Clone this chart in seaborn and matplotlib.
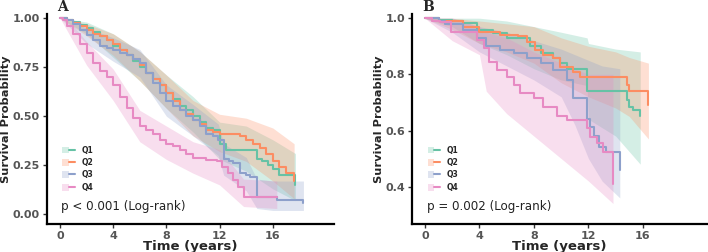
import numpy as np
import pandas as pd
import matplotlib
matplotlib.use("Agg")
import matplotlib.pyplot as plt
import seaborn as sns
from matplotlib.patches import Patch
from matplotlib.lines import Line2D
from matplotlib.legend_handler import HandlerTuple

groups = ["Q1", "Q2", "Q3", "Q4"]
colors = ["#66C2A5", "#FC8D62", "#8DA0CB", "#E78AC3"]

# ---------- Panel A ----------
a_q1_t = [0, 0.5, 1, 1.5, 2, 2.5, 3, 3.5, 4, 4.5, 5, 5.5, 6, 6.5, 7, 7.5, 8, 8.5, 9, 9.5, 10, 10.5, 11, 11.5, 12, 12.5, 13, 14, 14.8, 15.2, 15.6, 16, 16.5, 17, 17.7]
a_q1_s = [1.0, 0.99, 0.98, 0.965, 0.95, 0.93, 0.91, 0.89, 0.86, 0.84, 0.81, 0.78, 0.75, 0.72, 0.69, 0.66, 0.62, 0.59, 0.55, 0.53, 0.50, 0.47, 0.44, 0.43, 0.36, 0.33, 0.33, 0.33, 0.28, 0.27, 0.25, 0.23, 0.20, 0.20, 0.15]
a_q2_t = [0, 0.5, 1, 1.5, 2, 2.5, 3, 3.5, 4, 4.5, 5, 5.5, 6, 6.5, 7, 7.5, 8, 8.5, 9, 9.5, 10, 10.5, 11, 11.5, 12, 13, 13.5, 14, 14.5, 15, 15.5, 16, 16.5, 17, 17.6]
a_q2_s = [1.0, 0.99, 0.975, 0.96, 0.94, 0.92, 0.91, 0.89, 0.87, 0.84, 0.81, 0.79, 0.76, 0.72, 0.69, 0.66, 0.62, 0.58, 0.53, 0.51, 0.48, 0.46, 0.43, 0.42, 0.41, 0.41, 0.40, 0.38, 0.36, 0.34, 0.31, 0.27, 0.24, 0.21, 0.17]
a_q3_t = [0, 0.5, 1, 1.5, 2, 2.5, 3, 3.5, 4, 4.5, 5, 5.5, 6, 6.5, 7, 7.5, 8, 8.5, 9, 9.5, 10, 10.5, 11, 11.5, 11.9, 12.3, 12.7, 13, 13.5, 14, 14.3, 14.8, 16.3, 17, 18.3]
a_q3_s = [1.0, 0.99, 0.97, 0.94, 0.915, 0.89, 0.86, 0.85, 0.84, 0.82, 0.81, 0.79, 0.77, 0.72, 0.67, 0.62, 0.58, 0.55, 0.53, 0.50, 0.48, 0.45, 0.41, 0.40, 0.38, 0.28, 0.27, 0.26, 0.21, 0.20, 0.19, 0.09, 0.075, 0.075, 0.06]
a_q4_t = [0, 0.25, 0.5, 1, 1.5, 2, 2.5, 3, 3.5, 4, 4.5, 5, 5.5, 6, 6.5, 7, 7.5, 8, 8.5, 9, 9.5, 10, 11, 11.8, 12.2, 12.6, 13, 13.4, 13.8, 16.3]
a_q4_s = [1.0, 0.99, 0.96, 0.92, 0.87, 0.82, 0.77, 0.73, 0.70, 0.66, 0.60, 0.54, 0.49, 0.45, 0.43, 0.41, 0.38, 0.36, 0.35, 0.33, 0.31, 0.285, 0.277, 0.27, 0.24, 0.21, 0.175, 0.14, 0.09, 0.09]

a_q1_ci_t = [0, 2, 4, 6, 8, 10, 12, 14, 16, 17.7]
a_q1_lo = [1.0, 0.92, 0.80, 0.68, 0.54, 0.42, 0.28, 0.22, 0.13, 0.07]
a_q1_hi = [1.0, 0.98, 0.92, 0.83, 0.71, 0.60, 0.47, 0.45, 0.38, 0.31]
a_q2_ci_t = [0, 2, 4, 6, 8, 10, 12, 14, 16, 17.6]
a_q2_lo = [1.0, 0.91, 0.81, 0.68, 0.54, 0.40, 0.32, 0.27, 0.17, 0.08]
a_q2_hi = [1.0, 0.97, 0.92, 0.83, 0.71, 0.58, 0.51, 0.49, 0.44, 0.36]
a_q3_ci_t = [0, 2, 4, 6, 8, 10, 11.9, 12.3, 14, 14.8, 16, 18.3]
a_q3_lo = [1.0, 0.87, 0.78, 0.70, 0.50, 0.40, 0.30, 0.20, 0.12, 0.03, 0.02, 0.02]
a_q3_hi = [1.0, 0.95, 0.90, 0.84, 0.66, 0.56, 0.46, 0.36, 0.29, 0.18, 0.17, 0.17]
a_q4_ci_t = [0, 1, 2, 4, 6, 8, 10, 12, 13.8, 16.3]
a_q4_lo = [1.0, 0.88, 0.76, 0.58, 0.37, 0.28, 0.21, 0.15, 0.04, 0.03]
a_q4_hi = [1.0, 0.96, 0.88, 0.74, 0.53, 0.45, 0.37, 0.33, 0.18, 0.17]

# ---------- Panel B ----------
b_q1_t = [0, 1, 2, 2.8, 3.8, 5, 6, 7.7, 8.5, 9.4, 9.9, 10.4, 11.9, 14.8, 15.0, 15.3, 15.8]
b_q1_s = [1.0, 0.995, 0.99, 0.982, 0.958, 0.947, 0.93, 0.90, 0.875, 0.857, 0.84, 0.82, 0.74, 0.71, 0.685, 0.673, 0.65]
b_q2_t = [0, 1, 2.8, 4, 5.5, 6.8, 7.5, 8.1, 8.7, 9.4, 9.9, 10.9, 11.4, 14.8, 15.0, 16.4]
b_q2_s = [1.0, 0.99, 0.97, 0.952, 0.94, 0.935, 0.917, 0.887, 0.87, 0.857, 0.828, 0.81, 0.79, 0.762, 0.74, 0.69]
b_q3_t = [0, 1, 1.5, 2.8, 3.8, 4.5, 5.5, 6.5, 7.5, 8.5, 9.4, 10.4, 10.9, 11.9, 12.1, 12.4, 12.8, 13.3, 14.3]
b_q3_s = [1.0, 0.99, 0.98, 0.958, 0.93, 0.90, 0.887, 0.875, 0.857, 0.84, 0.816, 0.78, 0.715, 0.64, 0.614, 0.58, 0.54, 0.525, 0.46]
b_q4_t = [0, 0.5, 1.1, 1.9, 3.8, 4.3, 4.7, 5.3, 6, 6.5, 7, 8, 8.7, 9.7, 10.4, 11.9, 12.1, 12.6, 13.1, 13.8]
b_q4_s = [1.0, 0.99, 0.988, 0.952, 0.923, 0.893, 0.845, 0.816, 0.79, 0.762, 0.733, 0.715, 0.685, 0.65, 0.638, 0.608, 0.578, 0.554, 0.525, 0.41]

b_q1_ci_t = [0, 2, 4, 6, 8, 10, 11.9, 12.0, 14, 15.8]
b_q1_lo = [1.0, 0.97, 0.91, 0.87, 0.82, 0.78, 0.76, 0.64, 0.58, 0.48]
b_q1_hi = [1.0, 1.0, 1.0, 0.99, 0.97, 0.95, 0.93, 0.91, 0.89, 0.88]
b_q2_ci_t = [0, 2, 4, 6, 8, 10, 12, 14, 15, 16.4]
b_q2_lo = [1.0, 0.96, 0.91, 0.88, 0.84, 0.77, 0.72, 0.68, 0.65, 0.57]
b_q2_hi = [1.0, 1.0, 0.99, 0.98, 0.97, 0.93, 0.90, 0.88, 0.86, 0.84]
b_q3_ci_t = [0, 2, 4, 6, 8, 10, 11, 12, 13, 14.3]
b_q3_lo = [1.0, 0.95, 0.88, 0.83, 0.78, 0.72, 0.62, 0.50, 0.42, 0.36]
b_q3_hi = [1.0, 1.0, 0.97, 0.95, 0.92, 0.89, 0.87, 0.85, 0.83, 0.82]
b_q4_ci_t = [0, 2, 4, 4.5, 6, 8, 10, 12, 13.8]
b_q4_lo = [1.0, 0.92, 0.87, 0.74, 0.66, 0.58, 0.50, 0.42, 0.34]
b_q4_hi = [1.0, 1.0, 0.97, 0.95, 0.93, 0.88, 0.84, 0.80, 0.80]

panel_labels = ["A", "B"]
p_texts = ["p < 0.001 (Log-rank)", "p = 0.002 (Log-rank)"]
x_ticks = [0, 4, 8, 12, 16]
a_yticks = [0.00, 0.25, 0.50, 0.75, 1.00]
a_yticklabels = ["0.00", "0.25", "0.50", "0.75", "1.00"]
b_yticks = [0.4, 0.6, 0.8, 1.0]
b_yticklabels = ["0.4", "0.6", "0.8", "1.0"]

panels = [
    dict(lines=[(a_q1_t, a_q1_s), (a_q2_t, a_q2_s), (a_q3_t, a_q3_s), (a_q4_t, a_q4_s)],
         cis=[(a_q1_ci_t, a_q1_lo, a_q1_hi), (a_q2_ci_t, a_q2_lo, a_q2_hi),
              (a_q3_ci_t, a_q3_lo, a_q3_hi), (a_q4_ci_t, a_q4_lo, a_q4_hi)],
         rect=[47/708, 28/252, 287/708, 210/252], ylim=(-0.049, 1.021), xlim=(-0.98, 20.6),
         yticks=a_yticks, yticklabels=a_yticklabels),
    dict(lines=[(b_q1_t, b_q1_s), (b_q2_t, b_q2_s), (b_q3_t, b_q3_s), (b_q4_t, b_q4_s)],
         cis=[(b_q1_ci_t, b_q1_lo, b_q1_hi), (b_q2_ci_t, b_q2_lo, b_q2_hi),
              (b_q3_ci_t, b_q3_lo, b_q3_hi), (b_q4_ci_t, b_q4_lo, b_q4_hi)],
         rect=[412/708, 28/252, 295/708, 210/252], ylim=(0.267, 1.015), xlim=(-0.95, 20.7),
         yticks=b_yticks, yticklabels=b_yticklabels),
]

sns.set_style("white")
plt.rcParams["font.family"] = ["DejaVu Sans"]

fig = plt.figure(figsize=(7.08, 2.52), dpi=100)

for i, p in enumerate(panels):
    ax = fig.add_axes(p["rect"])
    frames = []
    for g, (t, s) in zip(groups, p["lines"]):
        frames.append(pd.DataFrame({"time": t, "surv": s, "group": g}))
    df = pd.concat(frames, ignore_index=True)
    for g, c, (ct, lo, hi) in zip(groups, colors, p["cis"]):
        ax.fill_between(ct, lo, hi, color=c, alpha=0.28, linewidth=0)
    sns.lineplot(data=df, x="time", y="surv", hue="group", palette=colors,
                 estimator=None, sort=False, drawstyle="steps-post", linewidth=1.5,
                 legend=False, ax=ax)
    ax.set_xlim(*p["xlim"])
    ax.set_ylim(*p["ylim"])
    ax.set_xticks(x_ticks)
    ax.set_xticklabels([str(v) for v in x_ticks])
    ax.set_yticks(p["yticks"])
    ax.set_yticklabels(p["yticklabels"])
    for sp in ["top", "right"]:
        ax.spines[sp].set_visible(False)
    for sp in ["left", "bottom"]:
        ax.spines[sp].set_color("black")
        ax.spines[sp].set_linewidth(1.6)
    ax.tick_params(axis="both", which="both", length=3, width=1.0, color="#333333",
                   labelsize=8, labelcolor="#555555", pad=2, bottom=True, left=True)
    for lab in ax.get_xticklabels() + ax.get_yticklabels():
        lab.set_fontweight("bold")
    ax.set_xlabel("Time (years)", fontsize=9.5, fontweight="bold", labelpad=-1)
    ax.set_ylabel("Survival Probability", fontsize=8.2, fontweight="bold", labelpad=1)
    ax.text(0.035, 1.0, panel_labels[i], transform=ax.transAxes, fontsize=10,
            fontweight="bold", family="DejaVu Serif", va="bottom", ha="left")
    ax.text(0.05, 0.085, p_texts[i], transform=ax.transAxes, fontsize=8.6, color="#222222",
            va="center", ha="left")
    handles = [(Patch(facecolor=c, alpha=0.28, edgecolor="none"), Line2D([], [], color=c, lw=1.5))
               for c in colors]
    leg = ax.legend(handles, groups, handler_map={tuple: HandlerTuple(ndivide=None, pad=0)},
                    loc="lower left", bbox_to_anchor=(0.03, 0.12), frameon=False,
                    prop={"size": 5.5, "weight": "bold"}, handlelength=1.6, handleheight=1.0,
                    labelspacing=0.45, handletextpad=0.9)

fig.savefig("out.png", dpi=100)
